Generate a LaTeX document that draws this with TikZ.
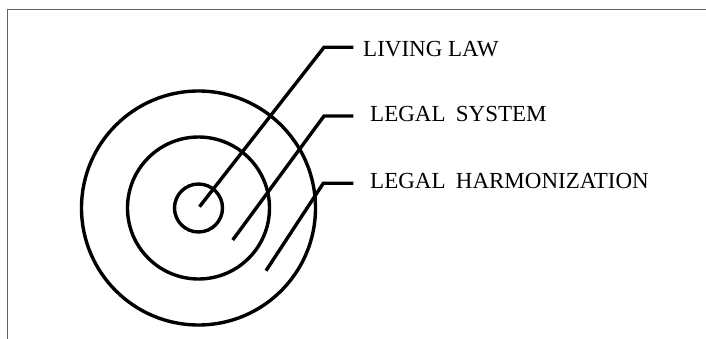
\documentclass[tikz,border=0pt]{standalone}
\usepackage{fontspec}
\setmainfont{Liberation Serif}
\begin{document}
\begin{tikzpicture}[x=1pt,y=-1pt,
  ring/.style={draw=black,line width=3.4pt,circle,inner sep=0pt},
  leader/.style={draw=black,line width=3.4pt,line join=miter},
  lbl/.style={anchor=base west,inner sep=0pt,font=\fontsize{23}{27}\selectfont},
  frame/.style={draw=black!62,line width=1.4pt}]
\useasboundingbox (0,0) rectangle (706,339);
\draw[frame] (7.5,339) -- (7.5,9.5) -- (706,9.5);
\node[ring,minimum size=48pt] (inner) at (198.5,208) {};
\node[ring,minimum size=142pt] (middle) at (198.5,208) {};
\node[ring,minimum size=234pt] (outer) at (198.5,208) {};
\node[lbl] (l1) at (363,56.7) {LIVING LAW};
\node[lbl] (l2) at (370,121.7) {LEGAL\hspace{0.45em}SYSTEM};
\node[lbl] (l3) at (370,188.3) {LEGAL\hspace{0.45em}HARMONIZATION};
\coordinate (s1) at (199.5,206.7);
\coordinate (s2) at (232.7,240);
\coordinate (s3) at (266,270.7);
\coordinate (k1) at (324,47.3);
\coordinate (k2) at (324,116);
\coordinate (k3) at (323.3,183.3);
\coordinate (e1) at (353.3,47.3);
\coordinate (e2) at (353.3,116);
\coordinate (e3) at (353.3,183.3);
\draw[leader] (s1) -- (k1) -- (e1);
\draw[leader] (s2) -- (k2) -- (e2);
\draw[leader] (s3) -- (k3) -- (e3);
\end{tikzpicture}
\end{document}
